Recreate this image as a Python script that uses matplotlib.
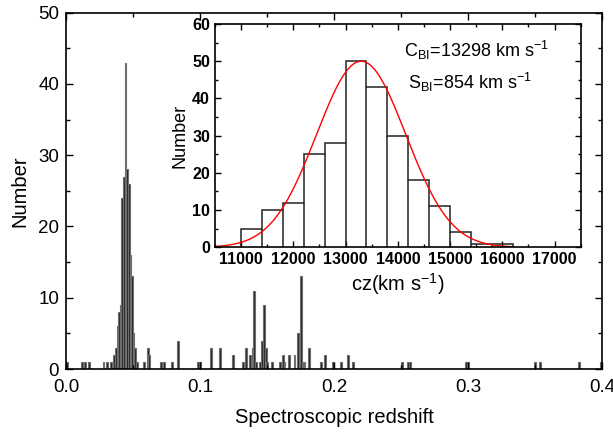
import matplotlib
matplotlib.use("Agg")
import matplotlib.pyplot as plt
import numpy as np
from matplotlib.ticker import MultipleLocator

plt.rcParams['font.family'] = ['Liberation Sans', 'DejaVu Sans']
plt.rcParams['mathtext.fontset'] = 'custom'
plt.rcParams['mathtext.rm'] = 'Liberation Sans'

# main histogram: redshift bin centres and counts
zCenters = [0.0005, 0.0116, 0.014, 0.017, 0.028, 0.0306, 0.0336,
            0.0358, 0.0373, 0.0384, 0.0396, 0.0407, 0.0418, 0.0433, 0.0444,
            0.0455, 0.047, 0.0481, 0.0493, 0.0504, 0.0515, 0.053,
            0.058, 0.061, 0.062, 0.071, 0.073, 0.079, 0.0836,
            0.0985, 0.100, 0.108, 0.115, 0.1245, 0.132, 0.134, 0.137,
            0.1395, 0.1406, 0.142, 0.145, 0.1465, 0.148, 0.1492, 0.150,
            0.154, 0.160, 0.162, 0.163, 0.1665, 0.1705, 0.1728, 0.1752,
            0.1765, 0.178, 0.1815, 0.1905, 0.1935, 0.1995, 0.205, 0.2105,
            0.214, 0.2505, 0.255, 0.2565, 0.2985, 0.2997, 0.350, 0.3535,
            0.3825, 0.399]
zCounts = [1, 1, 1, 1, 1, 1, 1,
           2, 3, 6, 8, 9, 24, 27, 43,
           28, 26, 16, 13, 5, 3, 1,
           1, 3, 2, 1, 1, 1, 4,
           1, 1, 3, 3, 2, 1, 3, 2,
           3, 11, 1, 1, 4, 9, 3, 1,
           1, 1, 2, 1, 2, 2, 5, 13,
           1, 1, 3, 1, 2, 1, 1, 2,
           1, 1, 1, 1, 1, 1, 1, 1,
           1, 1]

# inset histogram: cz bins (km/s) and counts
czEdges = [11000, 11400, 11800, 12200, 12600, 13000, 13400, 13800,
           14200, 14600, 15000, 15400, 15800, 16200]
czCounts = [5, 10, 12, 25, 28, 50, 43, 30, 18, 11, 4, 1, 1]

cBI = 13298
sBI = 854
peak = 50

fig = plt.figure(figsize=(6.13, 4.32), dpi=100)
ax = fig.add_axes([0.1077, 0.1458, 0.8744, 0.8248])

ax.bar(zCenters, zCounts, width=0.0014, color='#262626',
       edgecolor='#6e6e6e', linewidth=0.8, align='center')
ax.set_xlim(0, 0.4)
ax.set_ylim(0, 50)
ax.xaxis.set_major_locator(MultipleLocator(0.1))
ax.xaxis.set_minor_locator(MultipleLocator(0.05))
ax.yaxis.set_major_locator(MultipleLocator(10))
ax.yaxis.set_minor_locator(MultipleLocator(5))
ax.xaxis.set_major_formatter(lambda v, p: f"{v:.1f}")
ax.tick_params(which='both', direction='in', top=True, right=True,
               labelsize=13.5, width=1)
ax.tick_params(axis='x', pad=7)
ax.tick_params(axis='y', pad=5)
ax.tick_params(which='major', length=5)
ax.tick_params(which='minor', length=3)
ax.set_xlabel("Spectroscopic redshift", fontsize=14.5, labelpad=9)
ax.set_ylabel("Number", fontsize=14.5, labelpad=6)
for s in ax.spines.values():
    s.set_linewidth(1.2)

# inset
ins = fig.add_axes([0.3507, 0.4275, 0.5966, 0.517])
ins.stairs(czCounts, czEdges, fill=True, facecolor='white')
ins.stairs(czCounts, czEdges, color='#222222', linewidth=1.1)
ins.vlines(czEdges[1:-1], 0, np.minimum(czCounts[:-1], czCounts[1:]),
           color='#222222', linewidth=1.1)
xs = np.linspace(10500, 16200, 300)
ins.plot(xs, peak * np.exp(-(xs - cBI) ** 2 / (2 * sBI ** 2)),
         color='red', linewidth=1)
ins.set_xlim(10500, 17500)
ins.set_ylim(0, 60)
ins.xaxis.set_major_locator(MultipleLocator(1000))
ins.xaxis.set_minor_locator(MultipleLocator(500))
ins.yaxis.set_major_locator(MultipleLocator(10))
ins.yaxis.set_minor_locator(MultipleLocator(5))
ins.tick_params(which='both', direction='in', top=True, right=True,
                labelsize=11.5, width=1)
ins.tick_params(which='major', length=4)
ins.tick_params(which='minor', length=2.5)
for lab in ins.get_xticklabels() + ins.get_yticklabels():
    lab.set_fontweight('bold')
ins.set_xlabel("cz(km s$^{-1}$)", fontsize=14.5, labelpad=3)
ins.set_ylabel("Number", fontsize=13, labelpad=3)
for s in ins.spines.values():
    s.set_linewidth(1.2)

ins.text(0.516, 0.883, r"C$_{\rm BI}$=13298 km s$^{-1}$", transform=ins.transAxes,
         fontsize=13, ha='left', va='center')
ins.text(0.527, 0.74, r"S$_{\rm BI}$=854 km s$^{-1}$", transform=ins.transAxes,
         fontsize=13, ha='left', va='center')

fig.savefig("out.png", dpi=100)
